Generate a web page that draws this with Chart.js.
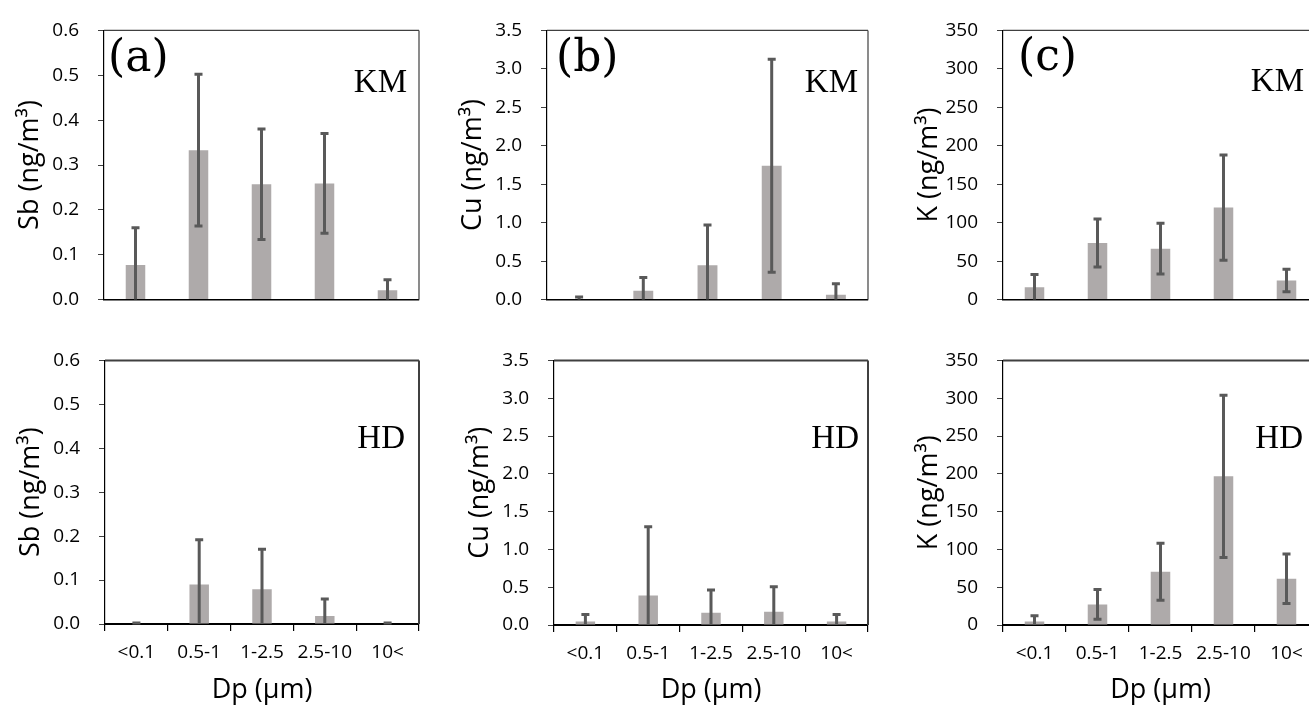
<!DOCTYPE html>
<html><head><meta charset="utf-8">
<script src="https://cdn.jsdelivr.net/npm/chart.js@4.4.0/dist/chart.umd.min.js"></script>
<style>
html,body{margin:0;padding:0;background:#fff;}
#wrap{position:relative;width:1309px;height:707px;overflow:hidden;background:#fff;}
#wrap canvas{position:absolute;}
</style></head><body><div id="wrap"></div>
<script>
const categories = ['<0.1', '0.5-1', '1-2.5', '2.5-10', '10<'];

const sbKM   = [0.077, 0.333, 0.257, 0.259, 0.021];
const sbKMsd = [0.083, 0.169, 0.123, 0.111, 0.023];
const cuKM   = [0.008, 0.115, 0.448, 1.739, 0.062];
const cuKMsd = [0.025, 0.173, 0.522, 1.385, 0.143];
const kKM    = [16.1, 73.7, 66.2, 119.6, 24.8];
const kKMsd  = [16.5, 31.2, 33.0, 68.5, 14.5];

const sbHD   = [0.001, 0.090, 0.079, 0.018, 0.001];
const sbHDsd = [0.001, 0.102, 0.091, 0.039, 0.001];
const cuHD   = [0.047, 0.391, 0.162, 0.175, 0.047];
const cuHDsd = [0.093, 0.909, 0.302, 0.331, 0.093];
const kHD    = [4.7, 27.2, 70.5, 196.7, 61.1];
const kHDsd  = [7.6, 19.7, 37.7, 107.3, 32.8];

const sbTicks = [0, 0.1, 0.2, 0.3, 0.4, 0.5, 0.6];
const cuTicks = [0, 0.5, 1.0, 1.5, 2.0, 2.5, 3.0, 3.5];
const kTicks  = [0, 50, 100, 150, 200, 250, 300, 350];

const panels = [
  {values: sbKM, sd: sbKMsd, ticks: sbTicks, dec: 1, ytitle: 'Sb (ng/m³)', tag: '(a)', site: 'KM', row: 0, L: 104, R: 419, T: 24, B: 306, tagX: 4, tagY: 71, siteR: 12, siteY: 92},
  {values: cuKM, sd: cuKMsd, ticks: cuTicks, dec: 1, ytitle: 'Cu (ng/m³)', tag: '(b)', site: 'KM', row: 0, L: 547, R: 868, T: 23, B: 308, tagX: 9, tagY: 71, siteR: 10, siteY: 92},
  {values: kKM,  sd: kKMsd,  ticks: kTicks,  dec: 0, ytitle: 'K (ng/m³)',  tag: '(c)', site: 'KM', row: 0, L: 1003, R: 1318, T: 24, B: 306, tagX: 15, tagY: 70, siteR: 14, siteY: 91},
  {values: sbHD, sd: sbHDsd, ticks: sbTicks, dec: 1, ytitle: 'Sb (ng/m³)', tag: '', site: 'HD', row: 1, L: 105, R: 419, T: 350, B: 624, siteR: 14, siteY: 448},
  {values: cuHD, sd: cuHDsd, ticks: cuTicks, dec: 1, ytitle: 'Cu (ng/m³)', tag: '', site: 'HD', row: 1, L: 554, R: 868, T: 350, B: 625, siteR: 9, siteY: 448},
  {values: kHD,  sd: kHDsd,  ticks: kTicks,  dec: 0, ytitle: 'K (ng/m³)',  tag: '', site: 'HD', row: 1, L: 1003, R: 1318, T: 350, B: 625, siteR: 15, siteY: 448}
];

const W_Y = 104;
const wrap = document.getElementById('wrap');

const errPlugin = {
  id: 'err',
  afterDatasetsDraw(chart, args, opts) {
    const {ctx, scales: {x, y}} = chart;
    const vals = chart.data.datasets[0].data;
    const sd = opts.sd;
    ctx.save();
    ctx.strokeStyle = '#595959';
    ctx.lineWidth = 3;
    ctx.lineCap = 'butt';
    for (let i = 0; i < vals.length; i++) {
      const px = x.getPixelForValue(i);
      const lo = Math.max(0, vals[i] - sd[i]);
      const hi = vals[i] + sd[i];
      const yHi = y.getPixelForValue(hi);
      const yLo = y.getPixelForValue(lo);
      ctx.beginPath();
      ctx.moveTo(px, yLo); ctx.lineTo(px, yHi);
      ctx.moveTo(px - 4, yHi); ctx.lineTo(px + 4, yHi);
      if (vals[i] - sd[i] > 0) { ctx.moveTo(px - 4, yLo); ctx.lineTo(px + 4, yLo); }
      ctx.stroke();
    }
    ctx.restore();
  }
};

const framePlugin = {
  id: 'frame',
  afterDraw(chart, args, opts) {
    const {ctx, chartArea: a} = chart;
    ctx.save();
    ctx.strokeStyle = '#404040';
    ctx.lineWidth = opts.w;
    ctx.beginPath();
    ctx.moveTo(a.left, a.top); ctx.lineTo(a.right, a.top);
    ctx.moveTo(a.right, a.top); ctx.lineTo(a.right, a.bottom);
    ctx.stroke();
    ctx.restore();
  }
};

const textPlugin = {
  id: 'labels',
  afterDraw(chart, args, o) {
    const {ctx, chartArea: a} = chart;
    ctx.save();
    ctx.fillStyle = '#000';
    ctx.textBaseline = 'alphabetic';
    if (o.tag) {
      ctx.font = '44px "DejaVu Serif"';
      ctx.textAlign = 'left';
      ctx.fillText(o.tag, a.left + o.tagX, o.tagY);
    }
    ctx.font = '33px "Liberation Serif"';
    ctx.textAlign = 'right';
    ctx.fillText(o.site, a.right - o.siteR, o.siteY);
    ctx.restore();
  }
};

panels.forEach(p => {
  const top = p.row === 0 ? 0 : 330;
  const h = p.row === 0 ? 330 : 377;
  const left = p.L - W_Y;
  const width = p.R - left + 4;
  const cv = document.createElement('canvas');
  cv.width = width; cv.height = h;
  cv.style.left = left + 'px'; cv.style.top = top + 'px';
  cv.style.width = width + 'px'; cv.style.height = h + 'px';
  wrap.appendChild(cv);
  const xHeight = h - (p.B - top);
  const bottomRow = p.row === 1;
  new Chart(cv, {
    type: 'bar',
    data: {labels: categories, datasets: [{data: p.values, backgroundColor: '#AEAAAA', borderWidth: 0, barPercentage: 0.31, categoryPercentage: 1}]},
    options: {
      responsive: false, animation: false, devicePixelRatio: 1,
      layout: {padding: {left: 0, right: 4, top: p.T - top, bottom: 0}},
      plugins: {
        legend: {display: false}, tooltip: {enabled: false},
        err: {sd: p.sd},
        frame: {w: bottomRow ? 2 : 1.2},
        labels: {tag: p.tag, tagX: p.tagX, tagY: p.tagY - top, site: p.site, siteR: p.siteR, siteY: p.siteY - top}
      },
      scales: {
        x: {
          offset: true,
          grid: {display: bottomRow, drawOnChartArea: false, drawTicks: true, tickLength: 7, color: '#000', lineWidth: 1.2, offset: true},
          border: {display: true, color: '#000', width: bottomRow ? 2 : 1.5},
          ticks: {display: bottomRow, color: '#000', padding: 10, font: {family: 'Open Sans', size: 19}, maxRotation: 0, autoSkip: false},
          title: {display: bottomRow, text: 'Dp (µm)', color: '#000', font: {family: 'Open Sans', size: 27}, padding: {top: 0, bottom: 0}},
          afterFit: s => { s.height = xHeight; }
        },
        y: {
          min: 0, max: p.ticks[p.ticks.length - 1],
          afterBuildTicks: s => { s.ticks = p.ticks.map(v => ({value: v})); },
          grid: {drawOnChartArea: false, drawTicks: true, tickLength: 6, color: '#404040'},
          border: {display: true, color: '#000', width: 1.2},
          ticks: {callback: v => Number(v).toFixed(p.dec), color: '#000', padding: 19, font: {family: 'Open Sans', size: 19}},
          title: {display: true, text: p.ytitle, color: '#000', font: {family: 'Open Sans', size: 27}, padding: {top: 14, bottom: 0}},
          afterFit: s => { s.width = W_Y; }
        }
      }
    },
    plugins: [errPlugin, framePlugin, textPlugin]
  });
});
</script></body></html>
